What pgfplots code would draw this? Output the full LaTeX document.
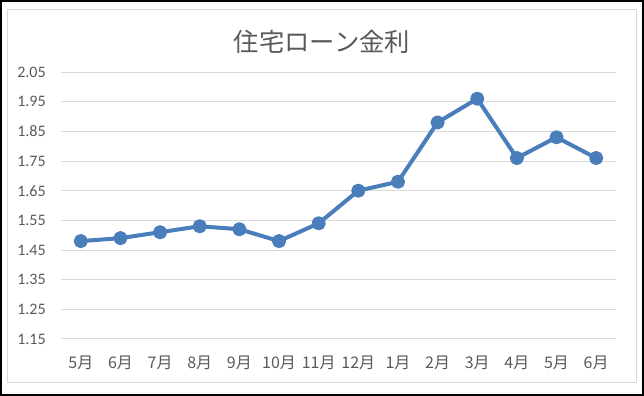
\documentclass[border=0pt]{standalone}
\usepackage{pgfplots}
\pgfplotsset{compat=1.18}
\usepackage{fontspec}
\setmainfont{Carlito}
\newfontfamily\jp{Noto Sans CJK JP}
\definecolor{txt}{HTML}{595959}
\definecolor{gridc}{HTML}{D9D9D9}
\definecolor{ser}{HTML}{4A7EBB}
\begin{document}
\begin{tikzpicture}[x=0.75pt,y=0.75pt]
\useasboundingbox (0,0) rectangle (644,396);
\draw[black, line width=1.5pt] (1,1) rectangle (643,395);
\draw[gridc, line width=0.75pt] (7,13) rectangle (636,386);
\node[text=txt, font=\jp\fontsize{19}{22}\selectfont] at (322,354) {住宅ローン金利};
\begin{axis}[
  at={(45.75pt,42.75pt)}, anchor=south west,
  scale only axis, width=416.25pt, height=200.25pt,
  xmin=-0.5, xmax=13.5, ymin=1.15, ymax=2.05,
  xtick={0,...,13},
  xticklabels={5月,6月,7月,8月,9月,10月,11月,12月,1月,2月,3月,4月,5月,6月},
  ytick={1.15,1.25,...,2.06},
  /pgf/number format/.cd, fixed, fixed zerofill, precision=2, assume math mode=true,
  /pgfplots/.cd,
  yticklabel style={text=txt, font=\fontsize{12}{14}\selectfont, xshift=-8pt},
  xticklabel style={text=txt, font=\jp\fontsize{12}{14}\selectfont, yshift=-9pt},
  axis line style={draw=none},
  major tick length=0pt,
  xmajorgrids=false, ymajorgrids=true, major grid style={draw=gridc, line width=0.75pt},
  clip=false,
]
\addplot[ser, line width=3pt, mark=*, mark size=3.8pt, mark options={fill=ser, draw=none}, line join=round]
coordinates {(0,1.48)(1,1.49)(2,1.51)(3,1.53)(4,1.52)(5,1.48)(6,1.54)(7,1.65)(8,1.68)(9,1.88)(10,1.96)(11,1.76)(12,1.83)(13,1.76)};
\end{axis}
\end{tikzpicture}
\end{document}
